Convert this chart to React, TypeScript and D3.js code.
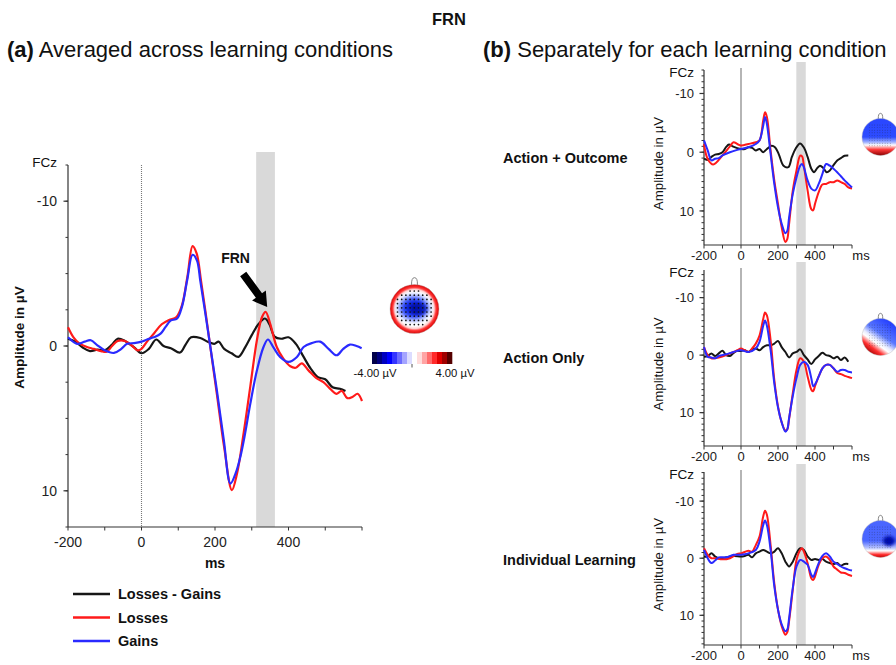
import React, { useEffect, useRef } from 'react';
import * as d3 from 'd3';

type Pt = [number, number];

const FONT = '"Liberation Sans", Arial, Helvetica, sans-serif';

// legend / series
const seriesLabels = ['Losses - Gains', 'Losses', 'Gains'];
const seriesColors = ['#161616', '#ff1a1a', '#2a2aff'];

// axis labels
const xTickLabels = [-200, 0, 200, 400];
const yTickLabels = [-10, 0, 10];
const conditionLabels = ['Action + Outcome', 'Action Only', 'Individual Learning'];
const colorbarLabels = ['-4.00 µV', '4.00 µV'];
const colorbarSteps = [
  '#00004a', '#000080', '#0000c0', '#0000ff', '#3434ff', '#6b6bff', '#a4a4ff', '#dcdcff',
  '#ffffff', '#ffdcdc', '#ffa4a4', '#ff6b6b', '#ff2a2a', '#e00000', '#a00000', '#550000',
];

// FRN time window (ms)
const frnWindowA: Pt = [312, 363];
const frnWindowB: Pt = [299, 350];

// (a) averaged across learning conditions, [ms, µV]
const avgDiff: Pt[] = [
  [-200, -0.5], [-180, -0.3], [-160, 0.1], [-140, 0.35], [-120, 0.25], [-100, 0.3], [-80, -0.1],
  [-65, -0.5], [-45, -0.35], [-20, 0.1], [0, 0.5], [20, 0.2], [40, -0.45], [60, 0], [80, 0.15],
  [105, 0.45], [120, -0.1], [135, -0.6], [160, -0.55], [180, -0.3], [198, -0.15], [210, -0.3],
  [225, 0.2], [245, 0.5], [264, 0.75], [282, 0.1], [300, -0.75], [318, -1.5], [336, -1.9],
  [348, -1.5], [362, -0.65], [380, -0.5], [400, -0.6], [420, -0.15], [440, 0.7], [460, 1.55],
  [480, 2.15], [500, 2.3], [520, 2.85], [540, 2.95], [555, 3.1],
];
const avgLoss: Pt[] = [
  [-200, -1.3], [-185, -0.6], [-170, -0.2], [-150, 0.05], [-130, 0.2], [-110, 0.35], [-95, 0.4],
  [-80, 0], [-65, -0.35], [-45, -0.35], [-25, 0], [-10, 0.3], [0, 0.2], [15, -0.3], [35, -0.9],
  [55, -1.5], [75, -1.8], [95, -2.0], [110, -2.8], [125, -4.8], [139, -6.9], [150, -6.4],
  [162, -4.5], [175, -2.2], [188, 0.2], [205, 3.3], [225, 7], [246, 9.95], [260, 8.8],
  [278, 6], [296, 2.8], [314, -0.4], [328, -2], [338, -2.35], [350, -1.55], [368, 0.07],
  [386, 0.87], [405, 1.4], [420, 1.5], [436, 1.2], [455, 1.7], [475, 2.2], [495, 2.5],
  [515, 3.0], [530, 3.3], [545, 3.1], [560, 3.6], [575, 3.5], [588, 3.3], [600, 3.8],
];
const avgGain: Pt[] = [
  [-200, -0.6], [-175, -0.15], [-155, -0.3], [-138, -0.4], [-120, -0.05], [-100, 0.3], [-75, 0.48],
  [-55, 0.2], [-39, -0.15], [-20, -0.2], [0, -0.3], [15, -0.45], [33, -0.6], [52, -0.85],
  [65, -1.3], [79, -1.75], [97, -1.9], [110, -2.7], [124, -4.5], [139, -6.3], [151, -5.9],
  [160, -4.5], [174, -2.2], [187, 0], [205, 3.05], [224, 6.5], [242, 9.5], [256, 8.8],
  [269, 7.65], [280, 6.3], [296, 4], [314, 1.7], [332, 0.07], [344, -0.45], [359, 0.1],
  [377, 0.76], [400, 1.1], [423, 0.76], [441, 0.07], [463, -0.2], [486, -0.3], [509, 0.2],
  [531, 0.64], [549, 0.2], [567, -0.1], [585, 0], [599, 0.15],
];

// (b) Action + Outcome
const aoDiff: Pt[] = [
  [-200, 1.1], [-180, 1.3], [-160, 0.8], [-140, 0.4], [-120, 0.3], [-100, 0], [-80, -0.9],
  [-65, -1.3], [-45, -1], [-20, -0.7], [0, -0.55], [20, -0.55], [40, -0.85], [60, -0.75],
  [80, -0.3], [100, -0.55], [120, 0], [140, -0.55], [165, -1.1], [185, -0.8], [205, 0.4],
  [230, 2.3], [256, 2.55], [275, 0.8], [295, -0.6], [319, -1.5], [340, -0.8], [360, 0.8],
  [380, 2.8], [395, 3.4], [410, 2.8], [427, 2.3], [445, 2.7], [463, 3.4], [480, 3.1],
  [500, 2.2], [520, 1.4], [540, 1.0], [560, 0.6], [580, 0.55],
];
const aoLoss: Pt[] = [
  [-200, -1.4], [-180, 1.15], [-150, 2.1], [-100, 0.55], [-60, -1], [-40, -1.7], [-20, -1.4],
  [0, -1.15], [40, -1.4], [80, -1.7], [100, -2], [120, -5.4], [130, -6.8], [140, -6],
  [160, -0.3], [180, 4.8], [200, 8.8], [220, 12.8], [240, 15.3], [250, 14.8], [260, 12.2],
  [280, 6.5], [300, 3.1], [320, 0.6], [330, 0.7], [340, 2.3], [360, 6.5], [380, 9.7],
  [390, 9.9], [400, 8.8], [420, 6.8], [440, 5.5], [460, 5.4], [480, 5.1], [500, 5.1],
  [520, 4.8], [540, 5.1], [560, 5.4], [580, 6], [600, 6.2],
];
const aoGain: Pt[] = [
  [-200, -2], [-180, -0.3], [-160, 1.4], [-140, 1.1], [-120, 1], [-100, 0.55], [-60, 0],
  [-20, -0.4], [0, -0.55], [40, -0.85], [80, -1.4], [100, -2], [120, -4.5], [130, -6],
  [140, -4.8], [160, 0.3], [180, 5.4], [200, 9.4], [220, 12.2], [240, 13.8], [250, 13.4],
  [260, 11.1], [280, 7.1], [300, 4.3], [320, 2.3], [330, 2], [340, 2.6], [360, 4.8],
  [380, 6.2], [400, 6.5], [420, 5.4], [440, 3.7], [460, 2], [480, 2.3], [500, 2.8],
  [520, 3.4], [540, 4.1], [560, 4.8], [580, 5.4], [600, 6],
];

// (b) Action Only
const actDiff: Pt[] = [
  [-200, 0.3], [-180, 0.15], [-160, -0.3], [-140, 0.15], [-120, -0.3], [-100, -0.75], [-80, 0],
  [-60, 0.15], [-40, -0.4], [-20, -0.75], [0, -0.7], [20, -0.85], [40, -0.55], [60, -1],
  [80, -1.15], [100, -0.85], [120, -1.4], [140, -1.7], [160, -1.7], [180, -2], [200, -2.45],
  [220, -1.4], [240, -0.55], [260, 0.4], [280, -0.3], [300, -0.55], [320, -1], [340, 0],
  [360, 0.75], [380, 1.55], [400, 0.75], [420, 0.15], [440, -0.4], [460, 0], [480, 0.15],
  [500, 0.55], [520, 0.3], [540, 0.85], [560, 0.4], [580, 1.15],
];
const actLoss: Pt[] = [
  [-200, -1.4], [-180, 0], [-160, 0.55], [-120, 0.4], [-80, 0], [-60, -0.3], [-40, -0.55],
  [-20, -0.85], [0, -1.15], [20, -0.85], [40, -0.55], [60, -1.15], [80, -2], [100, -3.4],
  [120, -6.3], [130, -7.4], [140, -6.9], [160, -2.6], [180, 4.3], [200, 8.9], [220, 11.7],
  [240, 13.1], [250, 12.9], [260, 11.1], [280, 6.6], [300, 2.6], [320, 0.55], [340, 1.15],
  [360, 3.7], [380, 6], [390, 6.3], [400, 5.4], [420, 3.7], [440, 2.3], [460, 1.7],
  [480, 1.7], [500, 2.3], [520, 3.1], [540, 3.3], [560, 3.6], [580, 3.8], [600, 4],
];
const actGain: Pt[] = [
  [-200, -1.4], [-180, 0.3], [-160, 0.4], [-140, 0.55], [-120, 0.15], [-80, -0.15], [-40, -0.55],
  [0, -0.85], [40, -0.55], [80, -1.15], [100, -2.3], [120, -5.1], [130, -6], [140, -5.1],
  [160, -0.85], [180, 4.9], [200, 9.1], [220, 11.7], [240, 13.3], [250, 12.9], [260, 10.9],
  [280, 7.1], [300, 4], [320, 1.7], [340, 1.15], [360, 1.7], [380, 4], [390, 5.4],
  [400, 5.1], [420, 3.7], [440, 2.3], [460, 1.7], [480, 1.7], [500, 2.3], [520, 2.9],
  [540, 2.6], [560, 2.6], [580, 2.9], [600, 3],
];

// (b) Individual Learning
const indDiff: Pt[] = [
  [-200, -0.3], [-180, -0.3], [-160, -0.85], [-140, -0.3], [-120, 0], [-80, -0.15], [-40, -0.4],
  [0, -0.3], [20, -0.4], [40, -0.6], [60, -0.15], [80, -0.85], [100, -1.15], [120, -1.45],
  [140, -1.15], [160, -0.85], [180, -1.15], [200, -1.75], [220, -0.85], [240, 0.6],
  [260, 1.45], [280, 0.6], [300, -0.85], [320, -1.75], [340, -1.45], [360, -0.3], [380, 0.3],
  [400, 0.15], [420, 0.3], [440, 0.15], [460, 0.6], [480, 0.85], [500, 1], [520, 0.85],
  [540, 1.3], [560, 1], [580, 1],
];
const indLoss: Pt[] = [
  [-200, -1.75], [-180, -0.6], [-160, 0], [-140, 0], [-100, 0.2], [-60, 0], [-20, -0.75],
  [0, -0.85], [40, -1.3], [60, -1.15], [80, -2.3], [100, -3.8], [120, -7.3], [130, -8.3],
  [140, -7.6], [160, -2.3], [180, 4.4], [200, 9], [220, 11.9], [240, 13.4], [250, 13],
  [260, 11], [280, 5.5], [300, 0.3], [320, -1.45], [330, -1.75], [340, -1.15], [360, 0.85],
  [380, 3.5], [390, 3.8], [400, 3.2], [420, 1.15], [440, 0], [460, -0.3], [480, 0.3],
  [500, 1.45], [520, 2], [540, 2.5], [560, 2.6], [580, 2.9], [600, 3.1],
];
const indGain: Pt[] = [
  [-200, -1.45], [-180, 0], [-160, 0.85], [-140, 0.4], [-120, -0.15], [-80, -0.15], [-40, -0.6],
  [0, -0.6], [40, -0.85], [80, -1.45], [100, -2.9], [120, -5.8], [130, -6.6], [140, -5.8],
  [160, -1.45], [180, 4.9], [200, 9], [220, 11.6], [240, 12.8], [250, 12.5], [260, 10.5],
  [280, 5.2], [300, 1.45], [320, 0.3], [340, 0.6], [360, 1.15], [380, 2.9], [390, 3.3],
  [400, 2.6], [420, 0.85], [440, -0.4], [460, -0.85], [480, -0.3], [500, 0.6], [520, 1],
  [540, 1.45], [560, 1.75], [580, 2], [600, 2.15],
];

const conditionSeries: Pt[][][] = [
  [aoDiff, aoLoss, aoGain],
  [actDiff, actLoss, actGain],
  [indDiff, indLoss, indGain],
];

// layout
const panelA = { left: 68, right: 362, top: 165, bottom: 527 };
const yDomainA: Pt = [-12.5, 12.5];
const panelB = { left: 704, right: 852, tops: [70, 270, 472], heights: [175, 176, 173] };
const yDomainsB: Pt[] = [[-14, 15.8], [-14.8, 15.8], [-15.1, 15.2]];

function drawErp(svg: any, o: any) {
  const x = d3.scaleLinear().domain([-200, 600]).range([o.left, o.right]);
  const y = d3.scaleLinear().domain(o.yDomain).range([o.top, o.bottom]);
  const g = svg.append('g');

  g.append('rect')
    .attr('x', x(o.band[0]))
    .attr('y', o.bandTop)
    .attr('width', x(o.band[1]) - x(o.band[0]))
    .attr('height', o.bottom - o.bandTop)
    .attr('fill', '#d9d9d9');

  g.append('line')
    .attr('x1', x(0)).attr('x2', x(0))
    .attr('y1', o.zeroTop).attr('y2', o.bottom)
    .attr('stroke', o.zeroDotted ? '#777' : '#a3a3a3')
    .attr('stroke-width', o.zeroDotted ? 1.1 : 1.6)
    .attr('stroke-dasharray', o.zeroDotted ? '1,1' : null);

  // y axis
  const yMinor = d3.range(Math.ceil(o.yDomain[0] / o.yStep) * o.yStep, o.yDomain[1] + 1e-6, o.yStep);
  g.append('line')
    .attr('x1', o.left).attr('x2', o.left)
    .attr('y1', o.top).attr('y2', o.bottom)
    .attr('stroke', '#333').attr('stroke-width', 1.2);
  g.selectAll(null).data(yMinor).join('line')
    .attr('x1', o.left - 2.5).attr('x2', o.left)
    .attr('y1', (d: number) => y(d)).attr('y2', (d: number) => y(d))
    .attr('stroke', '#333').attr('stroke-width', 1);
  g.selectAll(null).data(yTickLabels).join('line')
    .attr('x1', o.left - 4.5).attr('x2', o.left)
    .attr('y1', (d: number) => y(d)).attr('y2', (d: number) => y(d))
    .attr('stroke', '#333').attr('stroke-width', 1.2);
  g.selectAll(null).data(yTickLabels).join('text')
    .attr('x', o.yLabelX)
    .attr('y', (d: number) => y(d))
    .attr('dy', '0.36em')
    .attr('text-anchor', 'end')
    .attr('font-size', o.tickFont)
    .attr('fill', '#222')
    .text((d: number) => d);

  // x axis
  g.append('line')
    .attr('x1', o.left).attr('x2', o.right)
    .attr('y1', o.bottom).attr('y2', o.bottom)
    .attr('stroke', '#333').attr('stroke-width', 1.2);
  g.selectAll(null).data(d3.range(-200, 601, 100)).join('line')
    .attr('x1', (d: number) => x(d)).attr('x2', (d: number) => x(d))
    .attr('y1', o.bottom).attr('y2', o.bottom + 3.5)
    .attr('stroke', '#333').attr('stroke-width', 1);
  g.selectAll(null).data(xTickLabels).join('text')
    .attr('x', (d: number) => x(d))
    .attr('y', o.xLabelY)
    .attr('text-anchor', 'middle')
    .attr('font-size', o.tickFont)
    .attr('fill', '#222')
    .text((d: number) => d);

  const line = d3.line<Pt>()
    .x((d) => x(d[0]))
    .y((d) => y(d[1]))
    .curve(d3.curveCatmullRom.alpha(0.5));
  o.series.forEach((s: Pt[], i: number) => {
    g.append('path')
      .attr('d', line(s))
      .attr('fill', 'none')
      .attr('stroke', seriesColors[i])
      .attr('stroke-width', o.lineWidth)
      .attr('stroke-linejoin', 'round');
  });

  return { x, y };
}

function drawHead(svg: any, cx: number, cy: number, r: number, fill: string) {
  const g = svg.append('g');
  g.append('path')
    .attr('d', `M${cx - r * 0.12},${cy - r + 0.5} Q${cx - r * 0.13},${cy - r - r * 0.28} ${cx},${cy - r - r * 0.28} Q${cx + r * 0.13},${cy - r - r * 0.28} ${cx + r * 0.12},${cy - r + 0.5}`)
    .attr('fill', 'none').attr('stroke', '#777').attr('stroke-width', 0.9);
  g.append('circle').attr('cx', cx).attr('cy', cy).attr('r', r).attr('fill', fill)
    .attr('stroke', '#b0b0b0').attr('stroke-width', 0.4);
  return g;
}

export default function App() {
  const ref = useRef<SVGSVGElement>(null);

  useEffect(() => {
    if (!ref.current) return;
    const svg = d3.select(ref.current);
    svg.selectAll('*').remove();
    svg.attr('font-family', FONT);

    const defs = svg.append('defs');
    defs.append('filter').attr('id', 'soft').attr('x', '-50%').attr('y', '-50%').attr('width', '200%').attr('height', '200%')
      .append('feGaussianBlur').attr('stdDeviation', 1.6);
    defs.append('clipPath').attr('id', 'headA')
      .append('circle').attr('cx', 414.5).attr('cy', 309).attr('r', 24.5);

    const addRadial = (id: string, stops: [number, string][]) => {
      const gr = defs.append('radialGradient').attr('id', id);
      stops.forEach(([o, c]) => gr.append('stop').attr('offset', `${o}%`).attr('stop-color', c));
    };
    const addLinear = (id: string, v: number[], stops: [number, string][]) => {
      const gr = defs.append('linearGradient').attr('id', id)
        .attr('x1', v[0]).attr('y1', v[1]).attr('x2', v[2]).attr('y2', v[3]);
      stops.forEach(([o, c]) => gr.append('stop').attr('offset', `${o}%`).attr('stop-color', c));
    };
    addRadial('rimA', [[0, '#ffffff'], [70, '#ffffff'], [80, '#ffd0d0'], [88, '#ff3a3a'], [100, '#dd0000']]);
    addRadial('blobA', [[0, '#0010a8'], [40, '#1028e0'], [62, '#3a58ff'], [80, '#a8b8ff'], [100, '#ffffff']]);
    addLinear('topo0', [0, 0, 0, 1], [[0, '#2a46ff'], [50, '#2d4cff'], [64, '#9fb0ff'], [72, '#ffffff'], [84, '#ff3a3a'], [100, '#8a0000']]);
    addLinear('topo1', [0.85, 0.05, 0.2, 0.95], [[0, '#1a34ff'], [45, '#5a78ff'], [62, '#e8ecff'], [70, '#ffffff'], [84, '#ff3030'], [100, '#a00000']]);
    addLinear('topo2', [0, 0, 0, 1], [[0, '#4a66ff'], [55, '#4a66ff'], [74, '#b8c4ff'], [82, '#ffffff'], [92, '#ff3030'], [100, '#c00000']]);

    const txt = (x: number, y: number, s: string, size: number, weight = 'normal', anchor = 'start') =>
      svg.append('text')
        .attr('x', x).attr('y', y)
        .attr('font-size', size).attr('font-weight', weight)
        .attr('text-anchor', anchor).attr('fill', '#111')
        .text(s);

    // titles
    txt(449, 25, 'FRN', 16.5, 'bold', 'middle');
    const tA = svg.append('text').attr('x', 7).attr('y', 57).attr('font-size', 22).attr('fill', '#111');
    tA.append('tspan').attr('font-weight', 'bold').text('(a)');
    tA.append('tspan').text(' Averaged across learning conditions');
    const tB = svg.append('text').attr('x', 483).attr('y', 57).attr('font-size', 22).attr('fill', '#111');
    tB.append('tspan').attr('font-weight', 'bold').text('(b)');
    tB.append('tspan').text(' Separately for each learning condition');

    // ---- panel (a)
    const a = drawErp(svg, {
      ...panelA,
      yDomain: yDomainA,
      yStep: 2.5,
      band: frnWindowA,
      bandTop: 152,
      zeroTop: panelA.top,
      zeroDotted: true,
      tickFont: 14,
      yLabelX: 57,
      xLabelY: 547,
      lineWidth: 2.2,
      series: [avgDiff, avgLoss, avgGain],
    });
    txt(57, 167, 'FCz', 13.5, 'normal', 'end');
    txt(0, 0, 'Amplitude in µV', 13.5, 'bold', 'middle').attr('transform', 'translate(24,337.5) rotate(-90)');
    txt(215, 568, 'ms', 14, 'bold', 'middle');

    // FRN arrow pointing at the losses peak
    const tipX = a.x(342);
    const tipY = a.y(-2.7);
    const tailX = tipX - 24;
    const tailY = tipY - 33;
    const len = Math.hypot(tipX - tailX, tipY - tailY);
    const ux = (tipX - tailX) / len;
    const uy = (tipY - tailY) / len;
    const px = -uy;
    const py = ux;
    const neckX = tipX - ux * 14;
    const neckY = tipY - uy * 14;
    const pts: Pt[] = [
      [tailX + px * 3.8, tailY + py * 3.8],
      [neckX + px * 3.8, neckY + py * 3.8],
      [neckX + px * 8.5, neckY + py * 8.5],
      [tipX, tipY],
      [neckX - px * 8.5, neckY - py * 8.5],
      [neckX - px * 3.8, neckY - py * 3.8],
      [tailX - px * 3.8, tailY - py * 3.8],
    ];
    svg.append('polygon').attr('points', pts.map((p) => p.join(',')).join(' ')).attr('fill', '#000');
    txt(tipX - 46, tipY - 44, 'FRN', 14, 'bold', 'start');

    // main topography
    const hA = drawHead(svg, 414.5, 309, 24.5, 'url(#rimA)');
    const blob = hA.append('g').attr('clip-path', 'url(#headA)');
    blob.append('ellipse').attr('cx', 414).attr('cy', 308).attr('rx', 19).attr('ry', 15.5)
      .attr('fill', 'url(#blobA)').attr('filter', 'url(#soft)');
    blob.append('ellipse').attr('cx', 419).attr('cy', 309).attr('rx', 8).attr('ry', 6)
      .attr('fill', '#0008a0').attr('opacity', 0.7).attr('filter', 'url(#soft)');
    const dotsA: Pt[] = [];
    d3.range(-17, 18, 4.2).forEach((dx) => d3.range(-18, 19, 4.2).forEach((dy) => {
      if (dx * dx / 400 + dy * dy / 380 < 1) dotsA.push([414.5 + dx, 309 + dy]);
    }));
    hA.selectAll(null).data(dotsA).join('circle')
      .attr('cx', (d: Pt) => d[0]).attr('cy', (d: Pt) => d[1]).attr('r', 0.85).attr('fill', '#111');

    // colorbar
    const cb = d3.scaleBand<number>().domain(d3.range(colorbarSteps.length)).range([372, 452]);
    svg.selectAll(null).data(colorbarSteps).join('rect')
      .attr('x', (_: string, i: number) => cb(i) as number)
      .attr('y', 352)
      .attr('width', cb.bandwidth() + 0.3)
      .attr('height', 12)
      .attr('fill', (d: string) => d);
    svg.append('line').attr('x1', 412).attr('x2', 412).attr('y1', 364).attr('y2', 367.5).attr('stroke', '#555');
    txt(375, 377, colorbarLabels[0], 11.3, 'normal', 'middle');
    txt(455, 377, colorbarLabels[1], 11.3, 'normal', 'middle');

    // legend
    seriesLabels.forEach((lab, i) => {
      const yy = 594 + i * 23.5;
      svg.append('line').attr('x1', 73).attr('x2', 110).attr('y1', yy).attr('y2', yy)
        .attr('stroke', seriesColors[i]).attr('stroke-width', 2.6);
      txt(118, yy + 5, lab, 14.5, 'bold', 'start');
    });

    // ---- panel (b)
    conditionLabels.forEach((cond, k) => {
      const top = panelB.tops[k];
      const bottom = top + panelB.heights[k];
      drawErp(svg, {
        left: panelB.left,
        right: panelB.right,
        top,
        bottom,
        yDomain: yDomainsB[k],
        yStep: 1,
        band: frnWindowB,
        bandTop: top - 8,
        zeroTop: top - 2,
        zeroDotted: false,
        tickFont: 13,
        yLabelX: 694,
        xLabelY: bottom + 15,
        lineWidth: 2,
        series: conditionSeries[k],
      });
      txt(694, top + 7, 'FCz', 13.5, 'normal', 'end');
      txt(0, 0, 'Amplitude in µV', 13.3, 'normal', 'middle')
        .attr('transform', `translate(662.5,${(top + bottom) / 2 + 6}) rotate(-90)`);
      txt(861, bottom + 15, 'ms', 13, 'normal', 'middle');
      txt(503, top + 93, cond, 14.5, 'bold', 'start');

      const cy = top + 67;
      const h = drawHead(svg, 880.5, cy, 18.5, `url(#topo${k})`);
      if (k === 2) {
        h.append('ellipse').attr('cx', 889).attr('cy', cy + 2).attr('rx', 6).attr('ry', 5)
          .attr('fill', '#0010b0').attr('filter', 'url(#soft)');
      }
      const dots: Pt[] = [];
      d3.range(-11, 12, 2.6).forEach((dx) => d3.range(-12, 11, 2.6).forEach((dy) => {
        dots.push([880.5 + dx, cy + dy]);
      }));
      h.selectAll(null).data(dots).join('circle')
        .attr('cx', (d: Pt) => d[0]).attr('cy', (d: Pt) => d[1]).attr('r', 0.45)
        .attr('fill', '#222').attr('opacity', 0.55);
    });
  }, []);

  return (
    <svg
      ref={ref}
      width={896}
      height={665}
      style={{ position: 'absolute', left: 0, top: 0, background: '#ffffff' }}
    />
  );
}
